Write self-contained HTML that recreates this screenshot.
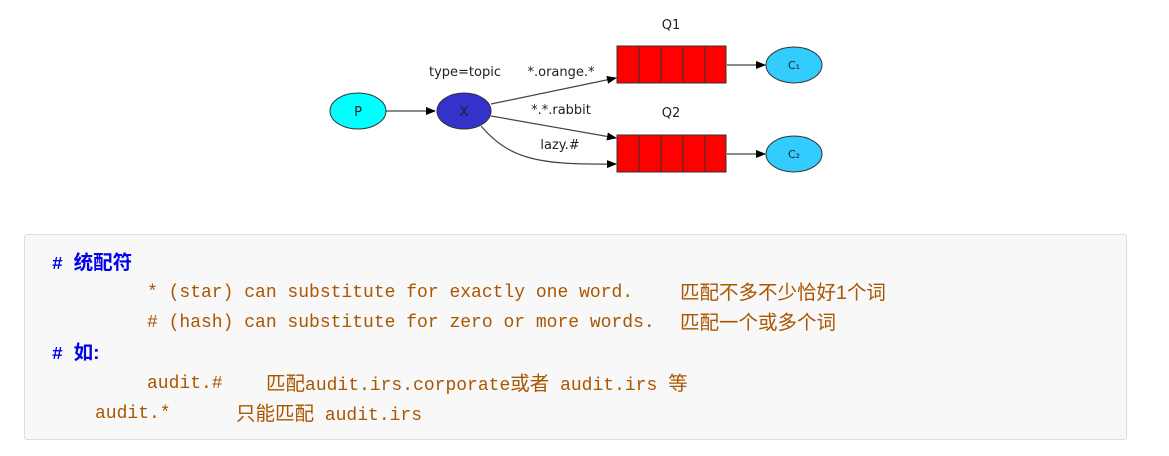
<!DOCTYPE html>
<html><head><meta charset="utf-8"><style>
body{margin:0;width:1169px;height:456px;background:#fff;position:relative;overflow:hidden}
.box{position:absolute;left:24px;top:234px;width:1101px;height:204px;background:#f8f8f8;border:1px solid #ddd;border-radius:3px}
.t{position:absolute;font-family:"Liberation Mono","Noto Sans CJK SC",monospace;font-size:18px;line-height:20px;white-space:pre;color:#aa5500}
.c{font-family:"Liberation Sans","Noto Sans CJK SC",sans-serif;font-size:19.5px}
.b{color:#0000ee;font-weight:bold}
</style></head><body>
<svg width="1169" height="220" style="position:absolute;left:0;top:0" font-family="DejaVu Sans, sans-serif" font-size="13">
<defs><marker id="a" markerWidth="10" markerHeight="8" refX="9" refY="4" orient="auto" markerUnits="userSpaceOnUse"><path d="M0,0L10,4L0,8z" fill="#000"/></marker></defs>
<g stroke="#444" stroke-width="1.2" fill="none">
<line x1="386" y1="111" x2="435" y2="111" marker-end="url(#a)"/>
<line x1="491" y1="104" x2="616" y2="78" marker-end="url(#a)"/>
<line x1="491" y1="116" x2="616" y2="138" marker-end="url(#a)"/>
<path d="M481,126 C510,160 540,165 616,164" marker-end="url(#a)"/>
<line x1="727" y1="65" x2="765" y2="65" marker-end="url(#a)"/>
<line x1="727" y1="154" x2="765" y2="154" marker-end="url(#a)"/>
</g>
<ellipse cx="358" cy="111" rx="28" ry="18" fill="#00ffff" stroke="#333"/>
<ellipse cx="464" cy="111" rx="27" ry="18" fill="#3333cc" stroke="#333"/>
<ellipse cx="794" cy="65" rx="28" ry="18" fill="#33ccff" stroke="#333"/>
<ellipse cx="794" cy="154" rx="28" ry="18" fill="#33ccff" stroke="#333"/>
<g fill="#ff0000" stroke="#333">
<rect x="617" y="46" width="109" height="37"/><rect x="617" y="135" width="109" height="37"/>
</g>
<g stroke="#333"><line x1="639" y1="46" x2="639" y2="83"/><line x1="661" y1="46" x2="661" y2="83"/><line x1="683" y1="46" x2="683" y2="83"/><line x1="705" y1="46" x2="705" y2="83"/>
<line x1="639" y1="135" x2="639" y2="172"/><line x1="661" y1="135" x2="661" y2="172"/><line x1="683" y1="135" x2="683" y2="172"/><line x1="705" y1="135" x2="705" y2="172"/></g>
<g fill="#222" text-anchor="middle">
<text x="358" y="116">P</text><text x="464" y="116">X</text>
<text x="794" y="69" font-size="11">C₁</text><text x="794" y="158" font-size="11">C₂</text>
<text x="671" y="29">Q1</text><text x="671" y="117">Q2</text>
<text x="465" y="76">type=topic</text><text x="561" y="76">*.orange.*</text>
<text x="561" y="114">*.*.rabbit</text><text x="560" y="149">lazy.#</text>
</g></svg>
<div class="box"></div>
<div class="t b" style="left:52px;top:253px"># <span class="c">统配符</span></div>
<div class="t" style="left:147px;top:283px">* (star) can substitute for exactly one word.</div>
<div class="t c" style="left:680px;top:283px">匹配不多不少恰好1个词</div>
<div class="t" style="left:147px;top:313px"># (hash) can substitute for zero or more words.</div>
<div class="t c" style="left:680px;top:313px">匹配一个或多个词</div>
<div class="t b" style="left:52px;top:343px"># <span class="c">如:</span></div>
<div class="t" style="left:147px;top:374px">audit.#</div>
<div class="t" style="left:266px;top:374px"><span class="c">匹配</span>audit.irs.corporate<span class="c">或者</span> audit.irs <span class="c">等</span></div>
<div class="t" style="left:95px;top:404px">audit.*</div>
<div class="t" style="left:236px;top:404px"><span class="c">只能匹配</span> audit.irs</div>
</body></html>
